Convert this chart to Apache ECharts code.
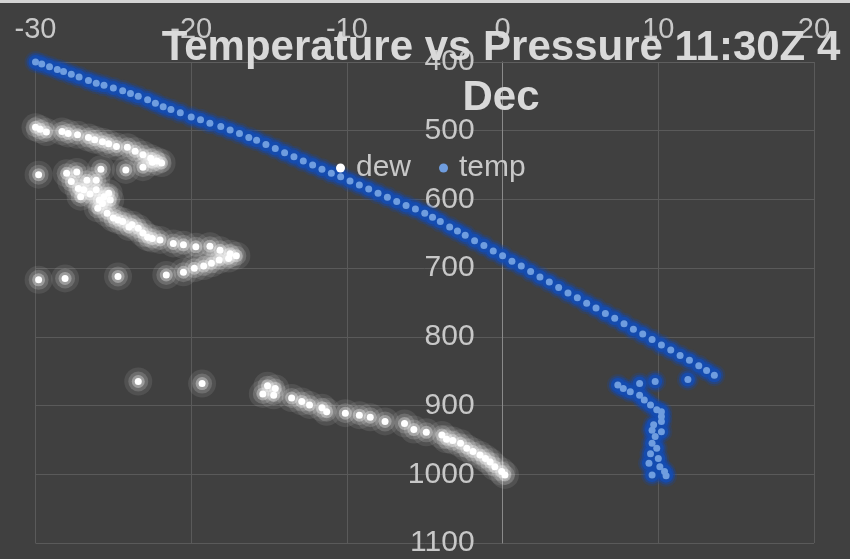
<!DOCTYPE html>
<html><head><meta charset="utf-8">
<script src="https://cdn.jsdelivr.net/npm/echarts@6/dist/echarts.min.js"></script>
<style>html,body{margin:0;padding:0;background:#404040;}#c{width:850px;height:559px;}</style>
</head><body><div id="c"></div>
<script>
// ---- data (temperature °C, pressure hPa) ----
const titleText = 'Temperature vs Pressure 11:30Z 4\nDec';
const seriesNames = ['dew', 'temp'];
const xTickLabels = [-30, -20, -10, 0, 10, 20];
const yTickLabels = [400, 500, 600, 700, 800, 900, 1000, 1100];

const dewPoints = [
  [-30.0,495],[-29.7,498],[-29.3,502],[-28.3,501],[-27.9,504],[-27.3,506],[-26.6,510],[-26.2,513],
  [-25.7,516],[-25.3,519],[-24.8,523],[-24.1,524],[-23.6,530],[-23.1,535],[-22.6,540],[-22.2,544],
  [-21.9,547],[-22.5,546],
  [-29.8,564],[-25.8,556],[-24.2,557],[-23.1,553],
  [-28.0,562],[-27.35,560],[-27.7,574],[-26.7,572],[-26.1,572],[-27.25,584],[-26.9,586],[-26.1,586],
  [-25.3,591],[-26.5,592],[-25.6,596],[-27.1,596],[-25.9,601],[-25.2,601],[-25.7,606],[-26.0,613],
  [-25.4,620],[-25.0,627],[-24.7,630],[-24.4,632],[-23.8,637],[-24.0,640],[-23.4,642],[-23.1,649],
  [-22.8,655],[-22.5,657],[-22.0,659],[-21.15,664],[-20.5,666],[-19.7,669],[-18.8,668],[-18.15,674],
  [-17.5,679],[-17.1,682],[-17.6,686],[-18.2,688],[-18.7,693],[-19.2,697],[-19.8,700],[-20.5,706],
  [-21.6,710],
  [-29.8,717],[-28.1,715],[-24.7,712],
  [-23.4,865],[-19.3,868],[-15.1,871],[-14.6,875],[-15.4,883],[-14.7,885],[-13.55,889],[-12.9,894],
  [-12.4,899],[-11.6,903],[-11.3,909],[-10.1,911],[-9.2,914],[-8.5,917],[-7.55,923],[-6.3,926],
  [-5.7,935],[-4.9,939],[-3.9,943],[-3.6,949],[-3.2,951],[-2.7,955],[-2.3,962],[-1.9,967],
  [-1.45,972],[-1.1,977],[-0.8,982],[-0.5,989],[-0.06,996],[0.15,1001]
];

const tempPoints = [
  [-30.0,400],[-29.6,403],[-29.1,407],[-28.6,411],[-28.2,414],[-27.7,418],[-27.2,422],[-26.6,427],
  [-26.1,431],[-25.6,434],[-25.0,438],[-24.4,442],[-23.9,446],[-23.4,450],[-22.8,455],[-22.3,460],
  [-21.8,465],[-21.3,469],[-20.7,474],[-20.0,480],[-19.4,484],[-18.8,489],[-18.1,494],[-17.5,499],
  [-16.9,504],[-16.3,510],[-15.8,514],[-15.2,520],[-14.6,526],[-14.0,532],[-13.4,538],[-12.8,544],
  [-12.2,550],[-11.6,556],[-11.0,562],[-10.4,567],[-9.8,573],[-9.2,579],[-8.6,585],[-8.0,591],
  [-7.4,597],[-6.8,603],[-6.2,609],[-5.6,614],[-5.0,620],[-4.5,626],[-4.0,632],[-3.4,640],
  [-2.9,646],[-2.4,652],[-1.8,660],[-1.2,667],[-0.6,675],[0.0,682],[0.6,690],[1.2,697],
  [1.8,705],[2.4,713],[3.0,720],[3.6,728],[4.2,736],[4.8,743],[5.4,751],[6.0,758],
  [6.6,766],[7.2,773],[7.8,781],[8.4,789],[9.0,796],[9.6,804],[10.2,812],[10.8,819],
  [11.4,827],[12.0,834],[12.6,842],[13.1,849],[13.6,856],
  [7.4,870],[7.75,875],[8.2,880],[8.8,868],[9.8,865],[11.9,862],[8.8,885],[9.1,892],
  [9.5,899],[9.9,906],[10.2,909],[10.2,916],[10.2,923],[9.7,928],[9.6,936],[10.2,938],
  [9.8,945],[9.6,955],[9.9,962],[9.5,970],[10.0,977],[9.4,984],[10.1,989],[10.4,996],
  [9.6,1001],[10.5,1002]
];

const FONT = '"Liberation Sans", Arial, sans-serif';
const GRID_LEFT = 35.5, GRID_RIGHT = 36;
const chart = echarts.init(document.getElementById('c'), null, {renderer: 'canvas'});
const plotW = 850 - GRID_LEFT - GRID_RIGHT;
const xMin = xTickLabels[0], xMax = xTickLabels[xTickLabels.length - 1];
const zeroOffset = -plotW * (0 - xMin) / (xMax - xMin);

function layer(name, data, size, color, z) {
  return {name: name, type: 'scatter', data: data, silent: true, symbol: 'circle',
          symbolSize: size, itemStyle: {color: color, opacity: 1}, z: z};
}

chart.setOption({
  backgroundColor: '#404040',
  animation: false,
  textStyle: {fontFamily: FONT},
  graphic: [{type: 'rect', left: 0, top: 0, shape: {width: 850, height: 3}, style: {fill: '#d4d4d4'}, z: 100}],
  title: {
    text: titleText,
    left: 501, top: 23, padding: 0, textAlign: 'center',
    textStyle: {color: '#d9d9d9', fontSize: 42, fontWeight: 'bold', lineHeight: 50, fontFamily: FONT},
    z: 10
  },
  legend: {
    data: seriesNames,
    left: 336, top: 153, padding: 0,
    icon: 'circle', itemWidth: 9, itemHeight: 9, itemGap: 28,
    textStyle: {color: '#c8c8c8', fontSize: 30, fontFamily: FONT, padding: [0, 0, 0, 6]}
  },
  grid: {left: GRID_LEFT, right: GRID_RIGHT, top: 62, bottom: 16, containLabel: false, outerBoundsMode: 'none'},
  xAxis: {
    type: 'value', position: 'top',
    min: xMin, max: xMax, interval: 10,
    axisLine: {show: true, onZero: false, lineStyle: {color: '#5e5e5e', width: 1}},
    axisTick: {show: false},
    axisLabel: {color: '#c8c8c8', fontSize: 29, margin: 18, fontFamily: FONT, formatter: v => String(v)},
    splitLine: {show: true, lineStyle: {color: '#5a5a5a', width: 1}}
  },
  yAxis: {
    type: 'value', inverse: true, position: 'left', offset: zeroOffset,
    min: yTickLabels[0], max: yTickLabels[yTickLabels.length - 1], interval: 100,
    axisLine: {show: true, onZero: false, lineStyle: {color: '#8a8a8a', width: 1}},
    axisTick: {show: false},
    axisLabel: {color: '#c8c8c8', fontSize: 30, margin: 28, fontFamily: FONT, formatter: v => String(v)},
    splitLine: {show: true, lineStyle: {color: '#5a5a5a', width: 1}}
  },
  series: [
    layer('dew-glow-1', dewPoints, 28, 'rgba(255,255,255,0.09)', 1),
    layer('dew-glow-2', dewPoints, 20, 'rgba(255,255,255,0.16)', 1),
    layer('dew-glow-3', dewPoints, 13, 'rgba(255,255,255,0.32)', 1),
    layer('temp-glow-1', tempPoints, 22, 'rgba(22,74,170,0.22)', 2),
    layer('temp-glow-2', tempPoints, 18, 'rgba(22,74,172,0.45)', 2),
    layer('temp-glow-3', tempPoints, 14, 'rgba(20,76,178,0.85)', 2),
    {
      name: seriesNames[0], type: 'scatter', data: dewPoints,
      symbol: 'circle', symbolSize: 7,
      itemStyle: {color: '#ffffff', opacity: 1},
      z: 3
    },
    {
      name: seriesNames[1], type: 'scatter', data: tempPoints,
      symbol: 'circle', symbolSize: 7,
      itemStyle: {color: '#6f9ddf', opacity: 1},
      z: 4
    }
  ]
});
</script>
</body></html>
